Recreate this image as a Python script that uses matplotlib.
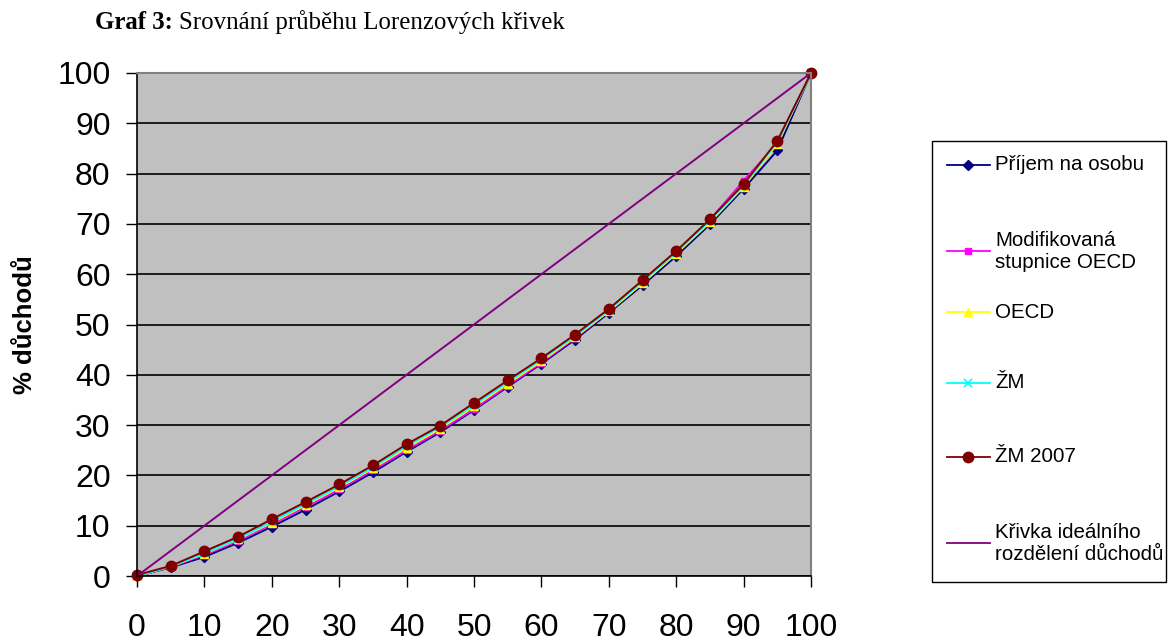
import matplotlib
matplotlib.use("Agg")
import matplotlib.pyplot as plt
from matplotlib.lines import Line2D
from matplotlib.patches import Rectangle

# ---- data ----
x_pct = [0, 5, 10, 15, 20, 25, 30, 35, 40, 45, 50, 55, 60, 65, 70, 75, 80, 85, 90, 95, 100]
prijem_na_osobu = [0, 1.7, 3.8, 6.6, 9.8, 13.2, 16.8, 20.6, 24.7, 28.6, 33.0, 37.6, 42.2, 47.0, 52.3, 57.8, 63.6, 69.9, 77.0, 84.6, 100]
modifikovana_oecd = [0, 1.8, 4.2, 7.0, 10.3, 13.7, 17.2, 21.0, 25.0, 28.9, 33.2, 37.8, 42.4, 47.3, 52.6, 58.3, 64.3, 70.8, 78.6, 86.0, 100]
oecd = [0, 1.9, 4.4, 7.3, 10.6, 14.1, 17.6, 21.4, 25.5, 29.3, 33.7, 38.2, 42.7, 47.5, 52.6, 58.2, 64.1, 70.3, 77.4, 85.9, 100]
zm = [0, 1.9, 4.5, 7.4, 10.8, 14.3, 17.8, 21.6, 25.8, 29.6, 34.0, 38.5, 43.0, 47.7, 52.8, 58.5, 64.3, 70.6, 77.6, 86.2, 100]
zm_2007 = [0.2, 2.0, 4.9, 7.8, 11.3, 14.7, 18.2, 22.0, 26.2, 29.9, 34.4, 38.9, 43.3, 48.0, 53.1, 58.8, 64.6, 70.9, 77.9, 86.5, 100]
idealni = [0, 5, 10, 15, 20, 25, 30, 35, 40, 45, 50, 55, 60, 65, 70, 75, 80, 85, 90, 95, 100]

labels = ["Příjem na osobu", "Modifikovaná\nstupnice OECD", "OECD", "ŽM", "ŽM 2007",
          "Křivka ideálního\nrozdělení důchodů"]
x_ticks = [0, 10, 20, 30, 40, 50, 60, 70, 80, 90, 100]
y_ticks = [0, 10, 20, 30, 40, 50, 60, 70, 80, 90, 100]

styles = [
    dict(color="#000080", marker="D", ms=5, mfc="#000080", mec="#000080"),
    dict(color="#FF00FF", marker="s", ms=5, mfc="#FF00FF", mec="#FF00FF"),
    dict(color="#FFFF00", marker="^", ms=6, mfc="#FFFF00", mec="#FFFF00"),
    dict(color="#00FFFF", marker="x", ms=6, mfc="#00FFFF", mec="#00FFFF", mew=1.2),
    dict(color="#800000", marker="o", ms=7.5, mfc="#800000", mec="#800000"),
    dict(color="#800080", marker="None"),
]
series = [prijem_na_osobu, modifikovana_oecd, oecd, zm, zm_2007, idealni]

plt.rcParams['font.family'] = ['Liberation Sans', 'DejaVu Sans']

W, H = 1168, 644
fig = plt.figure(figsize=(W / 100, H / 100), dpi=100)
ax = fig.add_axes([137 / W, 1 - 576 / H, (811 - 137) / W, (576 - 73) / H])
ax.set_facecolor("#C0C0C0")

for vals, st in zip(series, styles):
    ax.plot(x_pct, vals, lw=1.4, **st, clip_on=False)

ax.set_xlim(0, 100)
ax.set_ylim(0, 100)
ax.set_xticks(x_ticks)
ax.set_yticks(y_ticks)
ax.set_xticklabels([str(v) for v in x_ticks])
ax.set_yticklabels([str(v) for v in y_ticks])
ax.tick_params(axis="both", direction="out", length=8, width=1, labelsize=23, colors="black")
ax.tick_params(axis="x", pad=19)
ax.tick_params(axis="y", pad=11)
ax.yaxis.grid(True, color="black", lw=1.2)
ax.set_axisbelow(True)
for s in ["top", "right"]:
    ax.spines[s].set_color("#808080")
    ax.spines[s].set_linewidth(1.5)
for s in ["left", "bottom"]:
    ax.spines[s].set_color("black")
    ax.spines[s].set_linewidth(1.2)

ax.set_ylabel("% důchodů", fontsize=18.5, fontweight="bold", labelpad=15)

# title
serif = ["Liberation Serif", "DejaVu Serif"]
t1 = fig.text(95 / W, 1 - 29 / H, "Graf 3: ", fontsize=17.9, fontweight="bold",
              family=serif, va="baseline", ha="left")
fig.canvas.draw()
bb = t1.get_window_extent(renderer=fig.canvas.get_renderer())
fig.text(bb.x1 / W, 1 - 29 / H, "Srovnání průběhu Lorenzových křivek", fontsize=17.9,
         family=serif, va="baseline", ha="left")

# legend (manual, Excel-like spacing)
fig.add_artist(Rectangle((932 / W, 1 - 582 / H), (1166 - 932) / W, (582 - 141) / H,
                         transform=fig.transFigure, fill=False, edgecolor="black", lw=1))
entry_y = [165, 251, 312, 383, 457, 543]
for lab, st, yy in zip(labels, styles, entry_y):
    yf = 1 - yy / H
    ln = Line2D([947 / W, 990 / W], [yf, yf], transform=fig.transFigure, color=st["color"], lw=1.3)
    fig.add_artist(ln)
    if st.get("marker", "None") != "None":
        mk = Line2D([968 / W], [yf], transform=fig.transFigure, linestyle="None",
                    marker=st["marker"], ms=st["ms"], mfc=st["mfc"], mec=st["mec"],
                    mew=st.get("mew", 1))
        fig.add_artist(mk)
    fig.text(995 / W, yf, lab, fontsize=14.8, va="center", ha="left", linespacing=1.2)

fig.savefig("out.png", dpi=100)
